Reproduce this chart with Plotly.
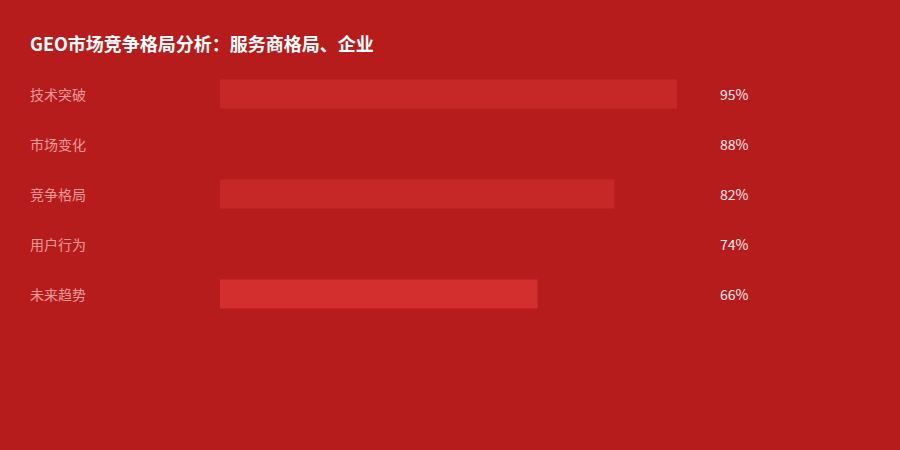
import plotly.graph_objects as go

categories = ["技术突破", "市场变化", "竞争格局", "用户行为", "未来趋势"]
values = [95, 88, 82, 74, 66]
bar_colors = ["#C62828", "#B71C1C", "#C62828", "#B71C1C", "#D32F2F"]

BG = "#B71C1C"
FONT = "Noto Sans CJK SC, Microsoft YaHei, sans-serif"

fig = go.Figure()

fig.add_trace(go.Bar(
    x=values,
    y=categories,
    orientation="h",
    marker=dict(color=bar_colors, line=dict(width=0)),
    width=0.58,
    hoverinfo="skip",
))

# left labels and right percentages
for cat, v in zip(categories, values):
    fig.add_annotation(
        x=-0.3992, xref="paper", y=cat, yref="y",
        text=cat, showarrow=False, xanchor="left",
        font=dict(size=14, color="#EF9A9A", family=FONT),
    )
    fig.add_annotation(
        x=1.0353, xref="paper", y=cat, yref="y",
        text=f"{v}%", showarrow=False, xanchor="left",
        font=dict(size=14, color="#FFEBEE", family=FONT),
    )

fig.update_layout(
    width=900, height=450,
    paper_bgcolor=BG, plot_bgcolor=BG,
    margin=dict(l=220, r=199, t=69, b=131, pad=0),
    showlegend=False,
    title=dict(
        text="<b>GEO市场竞争格局分析：服务商格局、企业</b>",
        x=30 / 900, xref="container", xanchor="left",
        y=1 - 45 / 450, yref="container", yanchor="middle",
        font=dict(size=18, color="white", family=FONT),
    ),
    xaxis=dict(range=[0, 100], visible=False, fixedrange=True),
    yaxis=dict(range=[4.5, -0.5], visible=False, fixedrange=True,
               categoryorder="array", categoryarray=categories),
)

fig.write_html(
    "out.html",
    config={"displayModeBar": False},
    post_script="document.body.style.margin='0';document.body.style.background='#B71C1C';",
)
